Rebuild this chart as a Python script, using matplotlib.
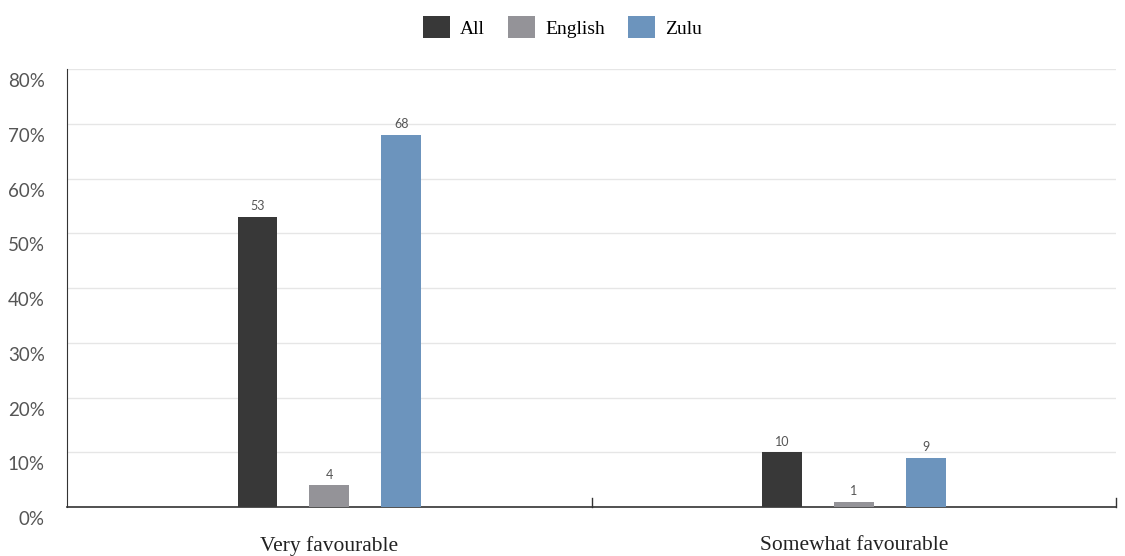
import numpy as np
from matplotlib import pyplot as plt
from matplotlib.patches import Patch
from matplotlib.transforms import ScaledTranslation

categories = ["Very favourable", "Somewhat favourable"]
series_names = ["All", "English", "Zulu"]
all_values = [53, 10]
english_values = [4, 1]
zulu_values = [68, 9]
y_ticks = [0, 10, 20, 30, 40, 50, 60, 70, 80]
y_tick_labels = ["0%", "10%", "20%", "30%", "40%", "50%", "60%", "70%", "80%"]

colors = ["#383838", "#949398", "#6c94bd"]
serif = ["Liberation Serif", "DejaVu Serif"]
sans = ["Lato", "DejaVu Sans"]

fig = plt.figure(figsize=(11.25, 5.56), dpi=100)
ax = fig.add_axes([0.0596, 0.0881, 0.9324, 0.7878])

x = np.arange(len(categories))
width = 0.076
offset = 0.137
series = [all_values, english_values, zulu_values]
for i, (vals, col) in enumerate(zip(series, colors)):
    pos = x + (i - 1) * offset
    bars = ax.bar(pos, vals, width=width, color=col, zorder=3)
    for b, v in zip(bars, vals):
        ax.text(b.get_x() + b.get_width() / 2, v + 0.8, str(v), ha="center", va="bottom",
                fontsize=9, color="#555555", family=sans)

ax.set_xlim(-0.5, 1.5)
ax.set_ylim(0, 80)
ax.set_yticks(y_ticks)
ax.set_yticklabels(y_tick_labels, fontsize=13.5, color="#555555", family=sans)
ax.tick_params(axis="y", length=0, pad=16)
ax.yaxis.grid(True, color="#e6e6e6", linewidth=1, zorder=0)
# labels sit slightly below their gridlines in the original
shift = ScaledTranslation(0, -8 / 72, fig.dpi_scale_trans)
for lbl in ax.get_yticklabels():
    lbl.set_transform(lbl.get_transform() + shift)

ax.set_xticks(x)
ax.set_xticklabels(categories, fontsize=15.5, color="#222222", family=serif)
ax.tick_params(axis="x", length=0, pad=21)
# boundary ticks between categories
for bx in [0.5, 1.5]:
    ax.plot([bx, bx], [0, 1.6], color="#333333", linewidth=1, clip_on=False, zorder=4)

for s in ["top", "right"]:
    ax.spines[s].set_visible(False)
ax.spines["left"].set_color("#333333")
ax.spines["bottom"].set_color("#333333")
ax.spines["bottom"].set_linewidth(1.2)

handles = [Patch(facecolor=c, edgecolor="none") for c in colors]
fig.legend(handles, series_names, loc="center", bbox_to_anchor=(0.5, 0.951), ncol=3, frameon=False,
           prop={"family": serif, "size": 14}, handlelength=1.4, handleheight=1.4,
           handletextpad=0.5, columnspacing=1.2)

fig.savefig("out.png", dpi=100)
